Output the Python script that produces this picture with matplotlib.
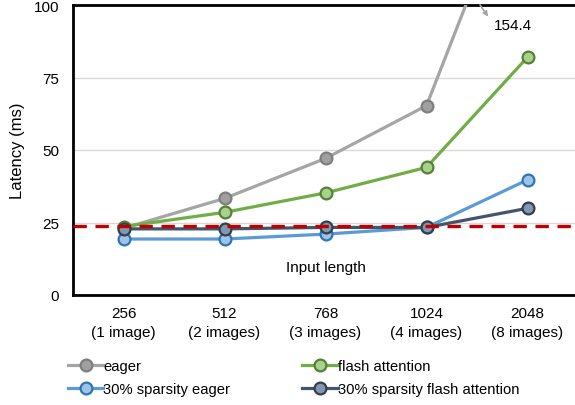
import matplotlib
matplotlib.use("Agg")
import matplotlib.pyplot as plt

plt.rcParams['font.family'] = ['Liberation Sans', 'DejaVu Sans']

categories = ["256\n(1 image)", "512\n(2 images)", "768\n(3 images)", "1024\n(4 images)", "2048\n(8 images)"]
eager = [23.0, 33.3, 47.1, 65.3, 154.4]
flash = [23.6, 28.5, 35.2, 44.0, 82.0]
sp_eager = [19.3, 19.3, 21.0, 23.3, 39.7]
sp_flash = [22.8, 22.8, 23.3, 23.3, 29.9]
baseline = 23.8

fig = plt.figure(figsize=(5.75, 4.06), dpi=100)
ax = fig.add_axes([73/575, 1 - 296/406, 505/575, 290/406])

x = list(range(len(categories)))
series = [
    ("eager", eager, "#A5A5A5", "#A0A0A0", "#7F7F7F"),
    ("flash attention", flash, "#70AD47", "#A9D18E", "#548235"),
    ("30% sparsity eager", sp_eager, "#5B9BD5", "#9DC3E6", "#2E75B6"),
    ("30% sparsity flash attention", sp_flash, "#44546A", "#8497B0", "#333F50"),
]
handles = []
for name, vals, lc, fc, ec in series:
    h, = ax.plot(x, vals, color=lc, lw=2.3, marker='o', ms=8.5, mfc=fc, mec=ec, mew=1.6,
                 label=name, clip_on=True, zorder=3)
    handles.append(h)

ax.axhline(baseline, color="#C00000", lw=2.4, ls=(0, (4, 2.6)), zorder=4)

ax.set_xlim(-0.5, 4.5)
ax.set_ylim(0, 100)
ax.set_yticks([0, 25, 50, 75, 100])
ax.set_xticks(x)
ax.set_xticklabels(categories, fontsize=11, linespacing=1.45)
ax.tick_params(axis='y', labelsize=11, length=0, pad=10)
ax.tick_params(axis='x', length=0, pad=8)
ax.grid(axis='y', color="#D9D9D9", lw=1.0, zorder=0)
for s in ax.spines.values():
    s.set_linewidth(2.0)
    s.set_color('black')
ax.set_ylabel("Latency (ms)", fontsize=12, labelpad=6)

ax.text(2.0, 9.5, "Input length", ha='center', va='center', fontsize=11)

ax.text(3.86, 93.0, "154.4", ha='center', va='center', fontsize=11, color='black')
ax.annotate("", xy=(3.61, 96.0), xytext=(3.53, 100.0),
            arrowprops=dict(arrowstyle='-|>', color='#A5A5A5', lw=1.2,
                            mutation_scale=7, shrinkA=0, shrinkB=0),
            annotation_clip=False)

order = [0, 2, 1, 3]
fig.legend([handles[i] for i in order], [series[i][0] for i in order], ncol=2,
           loc='upper left', bbox_to_anchor=(62/575, 1 - 354/406),
           frameon=False, fontsize=10.6, handlelength=2.4, handletextpad=0.0,
           columnspacing=4.9, labelspacing=0.65, borderaxespad=0)

fig.savefig("out.png", dpi=100)
